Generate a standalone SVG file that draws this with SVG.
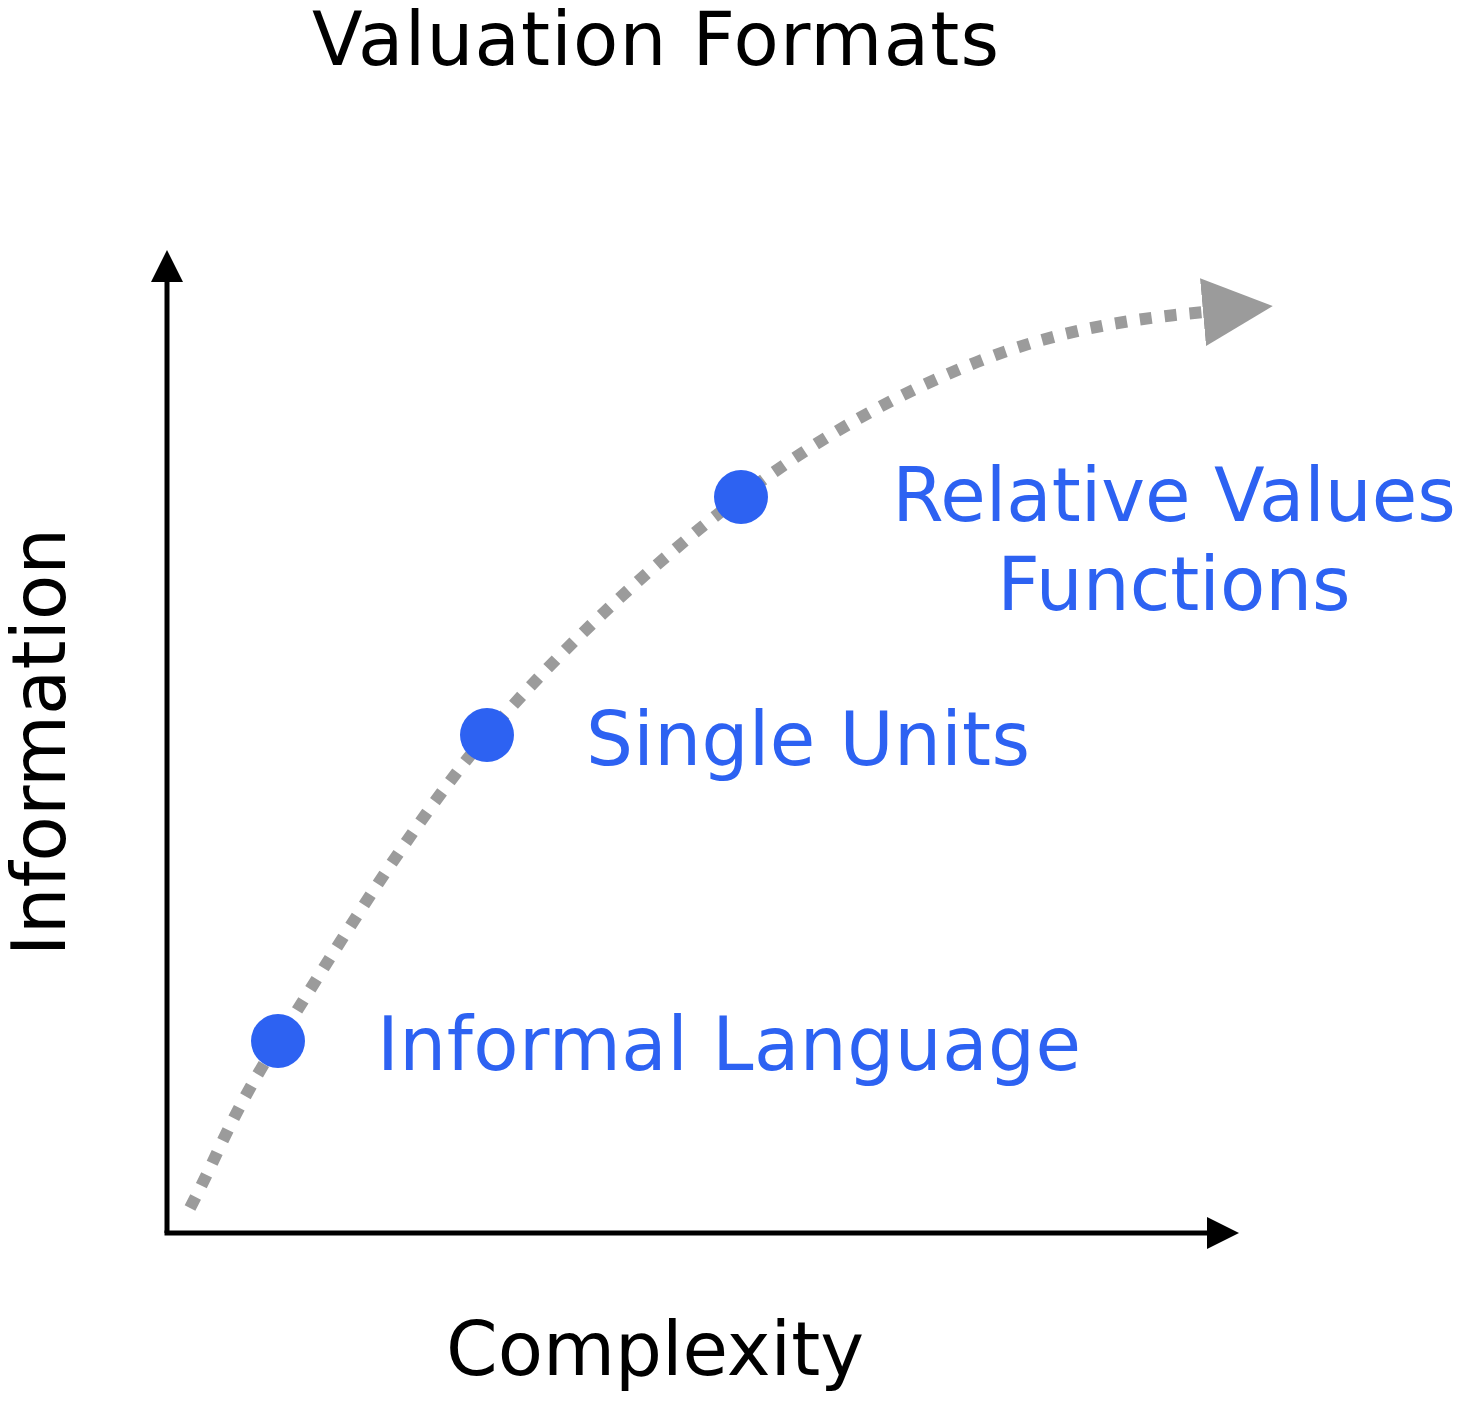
<svg xmlns="http://www.w3.org/2000/svg" width="1462" height="1404" viewBox="0 0 1462 1404">
  <style>
    .lbl { font-family: "DejaVu Sans", Verdana, "Liberation Sans", sans-serif; font-size: 74px; }
    .black { fill: #000000; }
    .blue { fill: #2d62f2; }
    .axis { fill: none; stroke: #000000; stroke-width: 5; stroke-linejoin: miter; }
    .trend { fill: none; stroke: #9b9b9b; stroke-width: 12; stroke-dasharray: 12 13; stroke-linecap: butt; }
    .dot { fill: #2d62f2; }
  </style>
  <defs>
    <marker id="axisHead" markerUnits="userSpaceOnUse" viewBox="0 0 32 32" markerWidth="32" markerHeight="32" refX="1" refY="16" orient="auto">
      <path d="M0,0 L32,16 L0,32 z" fill="#000000"/>
    </marker>
    <marker id="trendHead" markerUnits="userSpaceOnUse" viewBox="0 0 70 68" markerWidth="70" markerHeight="68" refX="2" refY="34" orient="auto">
      <path d="M0,0 L70,34 L0,68 z" fill="#9b9b9b"/>
    </marker>
  </defs>
  <rect x="0" y="0" width="1462" height="1404" fill="#ffffff"/>

  <g id="title">
    <text class="lbl black" x="655.5" y="65" text-anchor="middle" textLength="687" lengthAdjust="spacing">Valuation Formats</text>
  </g>

  <g id="connectors">
    <path id="y-axis" class="axis" d="M167,1233 L167,281" marker-end="url(#axisHead)"/>
    <path id="x-axis" class="axis" d="M164.5,1233 L1208,1233" marker-end="url(#axisHead)"/>
    <path id="trend-curve" class="trend" d="M190,1208 C219.3,1152.3 228.5,1119.8 278,1041 C327.5,962.2 410,825.7 487,735 C564,644.3 658.3,559.2 740,497 C821.7,434.8 899.5,392.8 977,362 C1054.5,331.2 1129,318.7 1205,312" marker-end="url(#trendHead)"/>
  </g>

  <g id="axis-label-y">
    <text class="lbl black" transform="translate(65,742) rotate(-90)" text-anchor="middle">Information</text>
  </g>
  <g id="axis-label-x">
    <text class="lbl black" x="655" y="1375" text-anchor="middle">Complexity</text>
  </g>

  <g id="node-informal-language">
    <circle class="dot" cx="278" cy="1041" r="27"/>
    <text class="lbl blue" x="377" y="1070" textLength="704" lengthAdjust="spacing">Informal Language</text>
  </g>
  <g id="node-single-units">
    <circle class="dot" cx="487" cy="735" r="27"/>
    <text class="lbl blue" x="586" y="765" textLength="444" lengthAdjust="spacing">Single Units</text>
  </g>
  <g id="node-relative-values">
    <circle class="dot" cx="741" cy="497" r="27"/>
    <text class="lbl blue" x="1174" y="521" text-anchor="middle">Relative Values</text>
    <text class="lbl blue" x="1174" y="610" text-anchor="middle">Functions</text>
  </g>
</svg>
